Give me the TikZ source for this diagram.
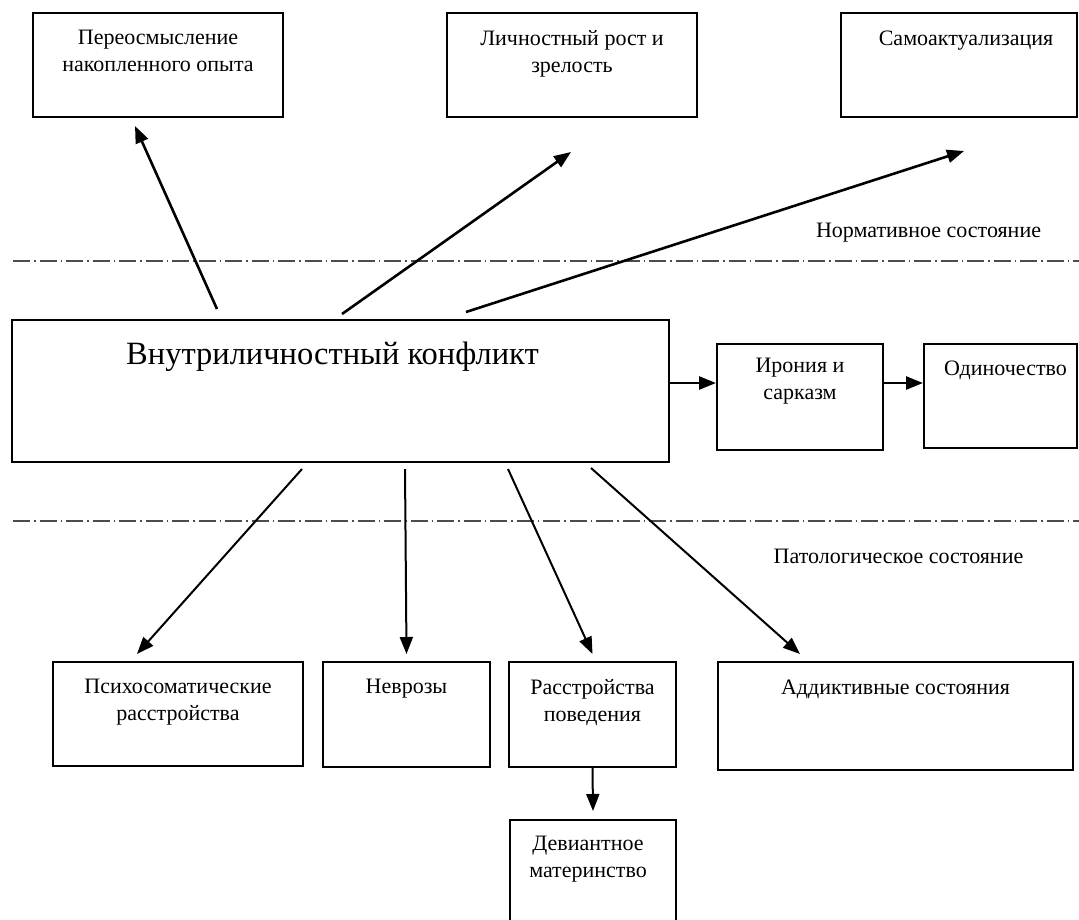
\documentclass[tikz,border=0pt]{standalone}
\usepackage{fontspec}
\setmainfont{Liberation Serif}
\usepackage{tikz}
\usetikzlibrary{arrows.meta}
\tikzstyle{box} = [rectangle, draw, line width=2pt, inner sep=0pt]
\tikzstyle{inbox} = [anchor=north, inner sep=0pt, align=center, font=\fontsize{22}{27}\selectfont]
\tikzstyle{statetext} = [anchor=base, inner sep=0pt, font=\fontsize{22}{27}\selectfont]
\tikzstyle{sepline} = [-, draw=black!70, line width=1.3pt, dash pattern=on 17pt off 4pt on 1.5pt off 4pt]
\tikzstyle{thickarrow} = [line width=2.6pt]

\begin{document}
\begin{tikzpicture}[->,>={Triangle[length=17pt,width=13pt]},line width=2pt,x=1pt,y=-1pt]
  \useasboundingbox (0,0) rectangle (1079,919);
  % obere Reihe
  \node[box, minimum width=250pt, minimum height=104pt, label={[inbox, yshift=-17.5pt]north:{Переосмысление\\накопленного опыта}}] (Opyt) at (158,65) {};
  \node[box, minimum width=250pt, minimum height=104pt, label={[inbox, yshift=-17.5pt]north:{Личностный рост и\\зрелость}}] (Rost) at (572,65) {};
  \node[box, minimum width=236pt, minimum height=104pt, label={[inbox, yshift=-17.5pt, xshift=7pt]north:{Самоактуализация}}] (Samo) at (959,65) {};
  \node[statetext] (Norm) at (928.5,237) {Нормативное состояние};
  % Mitte
  \node[box, minimum width=657pt, minimum height=142pt, label={[inbox, font=\fontsize{32.5}{38}\selectfont, yshift=-22pt, xshift=-8pt]north:{Внутриличностный конфликт}}] (Konflikt) at (340.5,391) {};
  \node[box, minimum width=166pt, minimum height=106pt, label={[inbox, yshift=-14.5pt]north:{Ирония и\\сарказм}}] (Ironie) at (800,397) {};
  \node[box, minimum width=153pt, minimum height=104pt, label={[inbox, yshift=-16.5pt, xshift=5pt]north:{Одиночество}}] (Odin) at (1000.5,396) {};
  \node[statetext] (Patho) at (898.5,563) {Патологическое состояние};
  % untere Reihe
  \node[box, minimum width=250pt, minimum height=104pt, label={[inbox, yshift=-17.5pt]north:{Психосоматические\\расстройства}}] (Psycho) at (178,714) {};
  \node[box, minimum width=167pt, minimum height=105pt, label={[inbox, yshift=-17.5pt]north:{Неврозы}}] (Nevr) at (406.5,714.5) {};
  \node[box, minimum width=167pt, minimum height=105pt, label={[inbox, yshift=-17.5pt]north:{Расстройства\\поведения}}] (Rasstr) at (592.5,714.5) {};
  \node[box, minimum width=355pt, minimum height=108pt, label={[inbox, yshift=-17.5pt]north:{Аддиктивные состояния}}] (Addikt) at (895.5,716) {};
  \node[box, minimum width=166pt, minimum height=105pt, label={[inbox, yshift=-16.5pt, xshift=-5pt]north:{Девиантное\\материнство}}] (Deviant) at (593,872.5) {};

  \draw[sepline] (13,261) -- (1079,261);
  \draw[sepline] (13,521) -- (1079,521);

  \path[thickarrow] ([xshift=206pt,yshift=10pt]Konflikt.north west) edge ([xshift=103pt,yshift=-8pt]Opyt.south west);
  \path[thickarrow] ([xshift=331pt,yshift=5pt]Konflikt.north west) edge ([xshift=125pt,yshift=-34pt]Rost.south west);
  \path[thickarrow] ([xshift=455pt,yshift=7pt]Konflikt.north west) edge ([xshift=124pt,yshift=-33pt]Samo.south west);
  \path[thickarrow] ([yshift=8pt]Konflikt.east) edge ([yshift=14pt]Ironie.west);
  \path[thickarrow] ([yshift=14pt]Ironie.east) edge ([yshift=13pt]Odin.west);
  \path ([xshift=291pt,yshift=-6pt]Konflikt.south west) edge ([xshift=85pt,yshift=7pt]Psycho.north west);
  \path ([xshift=394pt,yshift=-6pt]Konflikt.south west) edge ([yshift=7pt]Nevr.north);
  \path ([xshift=497pt,yshift=-6pt]Konflikt.south west) edge ([yshift=7pt]Rasstr.north);
  \path ([xshift=580pt,yshift=-5pt]Konflikt.south west) edge ([xshift=83pt,yshift=7pt]Addikt.north west);
  \path (Rasstr.south) edge ([yshift=8pt]Deviant.north);
\end{tikzpicture}
\end{document}
